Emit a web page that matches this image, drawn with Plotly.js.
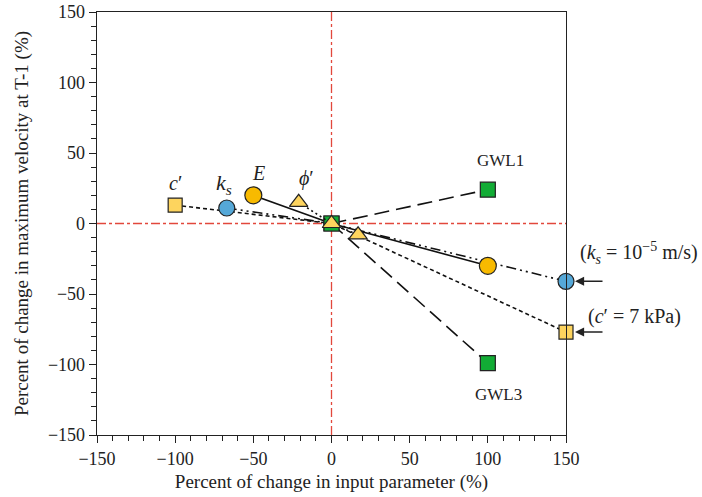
<!DOCTYPE html>
<html><head><meta charset="utf-8">
<script src="https://cdn.plot.ly/plotly-3.0.1.min.js"></script>
<style>body{margin:0;background:#fff}#chart{width:702px;height:497px}</style>
</head><body><div id="chart"></div>
<script>
// Percent change in input parameter (x) vs percent change in max velocity (y)
const cX = [-100, 0, 150];   const cY = [13, 0, -77];     // c'
const ksX = [-67, 0, 150];   const ksY = [11, 0, -41];    // ks
const eX = [-50, 0, 100];    const eY = [20, 0, -30];     // E
const phiX = [-21, 0, 17];   const phiY = [15, 0, -8];    // phi'
const gwl1X = [0, 100];      const gwl1Y = [0, 24];       // GWL1
const gwl3X = [0, 100];      const gwl3Y = [0, -99];      // GWL3

const FONT = 'Liberation Serif, Times New Roman, serif';
const yellow = '#fdd45e', orange = '#f8ba00', blue = '#55a8d8', green = '#12ac35';
const edge = {color: '#222', width: 1.2};

function tr(x, y, dash, symbol, color, sizes) {
  return {x: x, y: y, type: 'scatter', mode: 'lines+markers', cliponaxis: false,
    line: {color: '#111', width: 1.6, dash: dash},
    marker: {symbol: symbol, color: color, size: sizes, opacity: 1, line: edge},
    hoverinfo: 'skip', showlegend: false};
}

const data = [
  tr(cX, cY, '4px,3px', 'square', yellow, [14, 0, 14]),
  tr(ksX, ksY, '10px,4px,2px,4px,2px,4px', 'circle', blue, [16, 0, 16]),
  tr(eX, eY, 'solid', 'circle', orange, [17, 0, 17]),
  tr(gwl1X, gwl1Y, '15px,7px', 'square', green, [15, 15]),
  tr(gwl3X, gwl3Y, '15px,7px', 'square', green, [15, 15]),
  tr(phiX, phiY, '2px,3px', 'triangle-up', yellow, [16, 16, 16])
];

const ann = (x, y, t, extra) => Object.assign({x: x, y: y, xref: 'x', yref: 'y', text: t,
  showarrow: false, font: {family: FONT, size: 20, color: '#222'}}, extra || {});

const layout = {
  width: 702, height: 497,
  margin: {l: 97, r: 136, t: 12, b: 62},
  paper_bgcolor: '#fff', plot_bgcolor: '#fff',
  font: {family: FONT, size: 18, color: '#222'},
  xaxis: {range: [-150, 150], dtick: 50, tick0: -150, ticks: 'outside', ticklen: 7, tickcolor: '#222',
    showline: true, mirror: true, linecolor: '#222', linewidth: 1.3, showgrid: false, zeroline: false,
    tickformat: 'd', minor: {dtick: 10, ticks: 'outside', ticklen: 5, tickcolor: '#222'},
    title: {text: 'Percent of change in input parameter (%)', font: {size: 19}, standoff: 6}},
  yaxis: {range: [-150, 150], dtick: 50, tick0: -150, ticks: 'outside', ticklen: 7, tickcolor: '#222',
    showline: true, mirror: true, linecolor: '#222', linewidth: 1.3, showgrid: false, zeroline: false,
    minor: {dtick: 10, ticks: 'outside', ticklen: 5, tickcolor: '#222'},
    title: {text: 'Percent of change in maximum velocity at T-1 (%)', font: {size: 19}, standoff: 14}},
  shapes: [
    {type: 'line', xref: 'x', yref: 'paper', x0: 0, x1: 0, y0: 0, y1: 1, layer: 'below',
      line: {color: '#e2483c', width: 1.3, dash: 'dashdot'}},
    {type: 'line', xref: 'paper', yref: 'y', x0: 0, x1: 1, y0: 0, y1: 0, layer: 'below',
      line: {color: '#e2483c', width: 1.3, dash: 'dashdot'}}
  ],
  annotations: [
    ann(-100, 29, '<i>c</i>′'),
    ann(-69, 28, '<i>k<sub>s</sub></i>', {font: {family: FONT, size: 22, color: '#222'}}),
    ann(-47, 36, '<i>E</i>'),
    ann(-16, 32, '<i>ϕ</i>′'),
    ann(108, 45, 'GWL1', {font: {family: FONT, size: 17, color: '#222'}}),
    ann(107, -121, 'GWL3', {font: {family: FONT, size: 17, color: '#222'}}),
    {x: 1.155, y: 0.43, xref: 'paper', yref: 'paper', xanchor: 'center', yanchor: 'middle', showarrow: false,
      text: '(<i>k<sub>s</sub></i> = 10<sup>−5</sup> m/s)', font: {family: FONT, size: 20, color: '#222'}},
    {x: 1.145, y: 0.28, xref: 'paper', yref: 'paper', xanchor: 'center', yanchor: 'middle', showarrow: false,
      text: '(<i>c</i>′ = 7 kPa)', font: {family: FONT, size: 20, color: '#222'}},
    {x: 150, y: ksY[2], xref: 'x', yref: 'y', ax: 38, ay: 0, showarrow: true, text: '',
      arrowhead: 2, arrowsize: 1.3, arrowwidth: 1.4, arrowcolor: '#222', standoff: 9},
    {x: 150, y: cY[2], xref: 'x', yref: 'y', ax: 38, ay: 0, showarrow: true, text: '',
      arrowhead: 2, arrowsize: 1.3, arrowwidth: 1.4, arrowcolor: '#222', standoff: 9}
  ]
};
Plotly.newPlot('chart', data, layout, {displayModeBar: false, staticPlot: true});
</script></body></html>
